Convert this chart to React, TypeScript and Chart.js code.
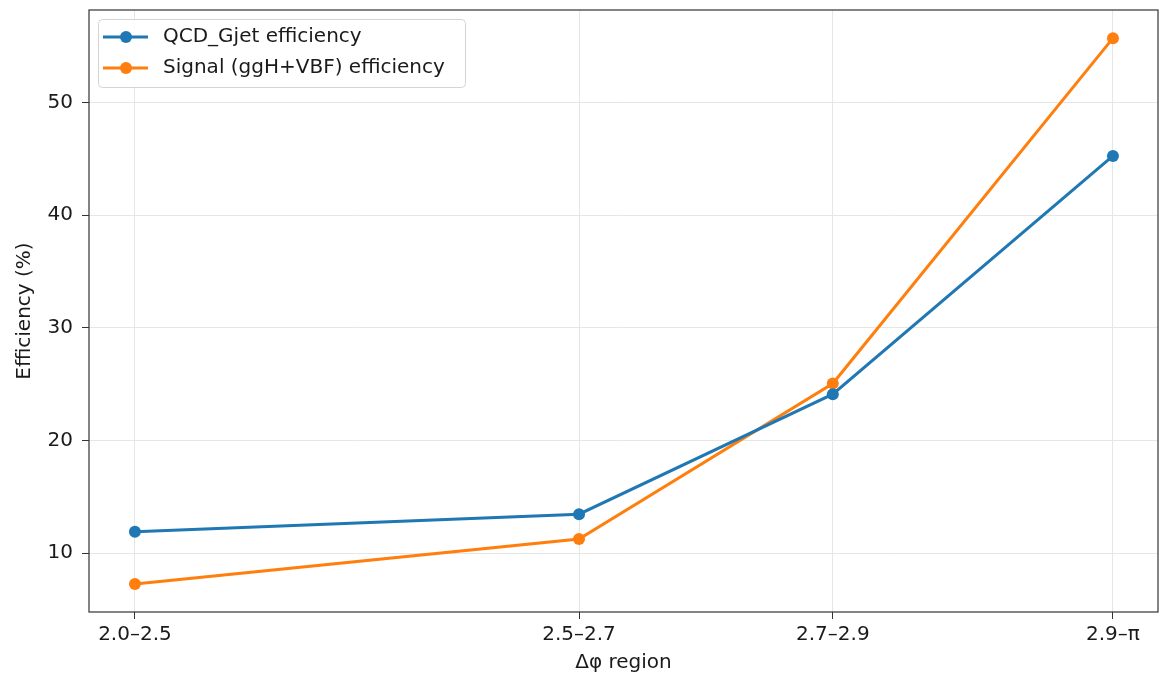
import React, { useEffect, useRef } from "react";
import { Chart, registerables } from "chart.js";

Chart.register(...registerables);

const categories = ["2.0–2.5", "2.5–2.7", "2.7–2.9", "2.9–π"];
const xPositions = [2.25, 2.6, 2.8, (2.9 + Math.PI) / 2];
const qcdEfficiency = [11.9, 13.45, 24.1, 45.25];
const signalEfficiency = [7.25, 11.25, 25.05, 55.7];
const yTicks = [10, 20, 30, 40, 50];

const BLUE = "#1f77b4";
const ORANGE = "#ff7f0e";
const FONT = "'DejaVu Sans', sans-serif";
const TEXT = "#1a1a1a";

const framePlugin = {
  id: "frame",
  afterDatasetsDraw(chart: any) {
    const { ctx, chartArea } = chart;
    ctx.save();
    ctx.strokeStyle = "#333";
    ctx.lineWidth = 1.2;
    ctx.strokeRect(chartArea.left, chartArea.top, chartArea.right - chartArea.left, chartArea.bottom - chartArea.top);
    ctx.restore();
  },
};

const legendPlugin = {
  id: "innerLegend",
  afterDraw(chart: any) {
    const { ctx } = chart;
    const x = 98, y = 19, w = 367, h = 68;
    ctx.save();
    ctx.fillStyle = "rgba(255,255,255,0.85)";
    ctx.strokeStyle = "#d4d4d4";
    ctx.lineWidth = 1;
    ctx.beginPath();
    (ctx as any).roundRect(x + 0.5, y + 0.5, w, h, 4);
    ctx.fill();
    ctx.stroke();
    const items = [
      { label: "QCD_Gjet efficiency", color: BLUE, ly: 37 },
      { label: "Signal (ggH+VBF) efficiency", color: ORANGE, ly: 68 },
    ];
    items.forEach((it) => {
      ctx.strokeStyle = it.color;
      ctx.lineWidth = 3;
      ctx.beginPath();
      ctx.moveTo(103, it.ly);
      ctx.lineTo(148, it.ly);
      ctx.stroke();
      ctx.fillStyle = it.color;
      ctx.beginPath();
      ctx.arc(126, it.ly, 6, 0, Math.PI * 2);
      ctx.fill();
      ctx.fillStyle = TEXT;
      ctx.font = `20px ${FONT}`;
      ctx.textBaseline = "middle";
      ctx.textAlign = "left";
      ctx.fillText(it.label, 163, it.ly);
    });
    ctx.restore();
  },
};

export default function App() {
  const ref = useRef<HTMLCanvasElement>(null);
  useEffect(() => {
    if (!ref.current) return;
    const chart = new Chart(ref.current, {
      type: "line",
      data: {
        datasets: [
          {
            label: "QCD_Gjet efficiency",
            data: xPositions.map((x, i) => ({ x, y: qcdEfficiency[i] })),
            borderColor: BLUE,
            backgroundColor: BLUE,
            borderWidth: 3,
            pointRadius: 6,
            pointBorderWidth: 0,
            tension: 0,
          },
          {
            label: "Signal (ggH+VBF) efficiency",
            data: xPositions.map((x, i) => ({ x, y: signalEfficiency[i] })),
            borderColor: ORANGE,
            backgroundColor: ORANGE,
            borderWidth: 3,
            pointRadius: 6,
            pointBorderWidth: 0,
            tension: 0,
          },
        ],
      },
      options: {
        responsive: false,
        animation: false,
        layout: { autoPadding: false, padding: { left: 0, right: 2, top: 10, bottom: 0 } },
        plugins: { legend: { display: false }, tooltip: { enabled: false }, title: { display: false } },
        scales: {
          x: {
            type: "linear",
            min: 2.2138,
            max: 3.0563,
            afterBuildTicks: (axis: any) => {
              axis.ticks = xPositions.map((v) => ({ value: v }));
            },
            afterFit: (axis: any) => {
              axis.height = 64;
              axis.paddingLeft = 0;
              axis.paddingRight = 0;
            },
            ticks: {
              autoSkip: false,
              maxRotation: 0,
              padding: 4,
              color: TEXT,
              font: { family: FONT, size: 20 },
              callback: (v: any) => {
                const i = xPositions.findIndex((p) => Math.abs(p - Number(v)) < 1e-6);
                return i >= 0 ? categories[i] : "";
              },
            },
            grid: { color: "#e6e6e6", lineWidth: 1, tickColor: "#333", tickLength: 7, drawTicks: true },
            border: { display: false },
            title: { display: true, text: "Δφ region", color: TEXT, font: { family: FONT, size: 20 }, padding: { top: 0, bottom: 1 } },
          },
          y: {
            type: "linear",
            min: 4.77,
            max: 58.2,
            afterBuildTicks: (axis: any) => {
              axis.ticks = yTicks.map((v) => ({ value: v }));
            },
            afterFit: (axis: any) => {
              axis.width = 89;
              axis.paddingTop = 0;
              axis.paddingBottom = 0;
            },
            ticks: { padding: 9, color: TEXT, font: { family: FONT, size: 20 } },
            grid: { color: "#e6e6e6", lineWidth: 1, tickColor: "#333", tickLength: 7 },
            border: { display: false },
            title: { display: true, text: "Efficiency (%)", color: TEXT, font: { family: FONT, size: 20 }, padding: { top: 13, bottom: 0 } },
          },
        },
      },
      plugins: [framePlugin, legendPlugin],
    } as any);
    return () => chart.destroy();
  }, []);
  return (
    <div style={{ position: "absolute", left: 0, top: 0, width: 1160, height: 676, background: "#fff" }}>
      <canvas ref={ref} width={1160} height={676} style={{ display: "block" }} />
    </div>
  );
}
